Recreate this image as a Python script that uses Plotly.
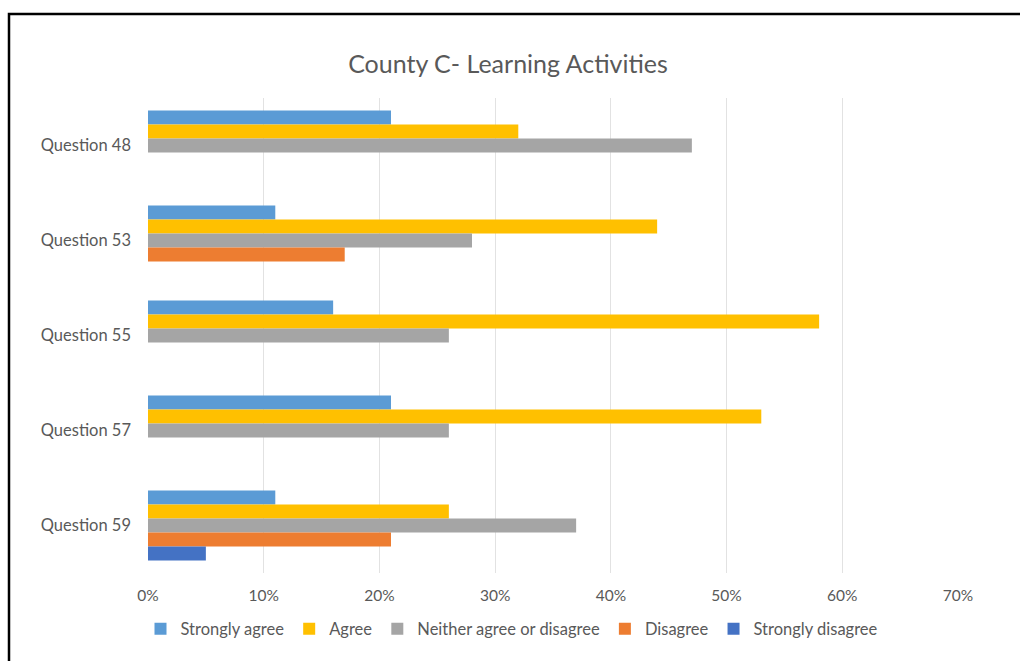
import plotly.graph_objects as go

# Survey questions (top to bottom) and response shares per category
questions = ["Question 48", "Question 53", "Question 55", "Question 57", "Question 59"]
strongly_agree = [0.21, 0.11, 0.16, 0.21, 0.11]
agree = [0.32, 0.44, 0.58, 0.53, 0.26]
neither = [0.47, 0.28, 0.26, 0.26, 0.37]
disagree = [0.00, 0.17, 0.00, 0.00, 0.21]
strongly_disagree = [0.00, 0.00, 0.00, 0.00, 0.05]

x_ticks = [0, 0.1, 0.2, 0.3, 0.4, 0.5, 0.6, 0.7]
x_tick_labels = ["0%", "10%", "20%", "30%", "40%", "50%", "60%", "70%"]

series = [
    ("Strongly agree", strongly_agree, "#5B9BD5"),
    ("Agree", agree, "#FFC000"),
    ("Neither agree or disagree", neither, "#A5A5A5"),
    ("Disagree", disagree, "#ED7D31"),
    ("Strongly disagree", strongly_disagree, "#4472C4"),
]

FONT = "Lato, 'Open Sans', sans-serif"
GREY_TEXT = "#595959"

fig = go.Figure()
for name, values, color in series:
    fig.add_trace(go.Bar(
        y=questions,
        x=values,
        name=name,
        orientation="h",
        marker=dict(color=color, line=dict(width=0)),
    ))

W, H = 1020, 661
ml, mr, mt, mb = 148, 62, 98, 88
pw, ph = W - ml - mr, H - mt - mb

def px_to_paper_x(px):
    return (px - ml) / pw

def px_to_paper_y(py):
    return (H - mb - py) / ph

fig.update_layout(
    width=W,
    height=H,
    margin=dict(l=ml, r=mr, t=mt, b=mb),
    paper_bgcolor="white",
    plot_bgcolor="white",
    barmode="group",
    bargap=0.263,
    bargroupgap=0,
    font=dict(family=FONT, color=GREY_TEXT),
    title=dict(
        text="County C- Learning Activities",
        x=508 / W,
        xanchor="center",
        y=1 - 64 / H,
        yanchor="middle",
        font=dict(size=25, color=GREY_TEXT, family=FONT),
    ),
    xaxis=dict(
        range=[0, 0.7],
        tickvals=x_ticks,
        ticktext=x_tick_labels,
        showgrid=True,
        gridcolor="#E2E2E2",
        gridwidth=1,
        zeroline=False,
        showline=False,
        ticks="",
        ticklabelstandoff=11,
        tickfont=dict(size=15.5, color=GREY_TEXT),
        fixedrange=True,
    ),
    yaxis=dict(
        autorange="reversed",
        showgrid=False,
        zeroline=False,
        showline=False,
        ticks="",
        ticklabelstandoff=16,
        tickfont=dict(size=16.5, color=GREY_TEXT),
        fixedrange=True,
    ),
    legend=dict(
        orientation="h",
        x=px_to_paper_x(512),
        xanchor="center",
        y=px_to_paper_y(629),
        yanchor="middle",
        font=dict(size=16.5, color=GREY_TEXT),
        itemwidth=30,
        traceorder="normal",
        bgcolor="rgba(0,0,0,0)",
    ),
    showlegend=True,
)

# Black frame around the chart
fig.add_shape(
    type="rect",
    xref="paper", yref="paper",
    x0=px_to_paper_x(9), x1=px_to_paper_x(1030),
    y0=px_to_paper_y(680), y1=px_to_paper_y(14),
    line=dict(color="black", width=2.5),
    fillcolor="rgba(0,0,0,0)",
    layer="above",
)

fig.write_html("out.html")
